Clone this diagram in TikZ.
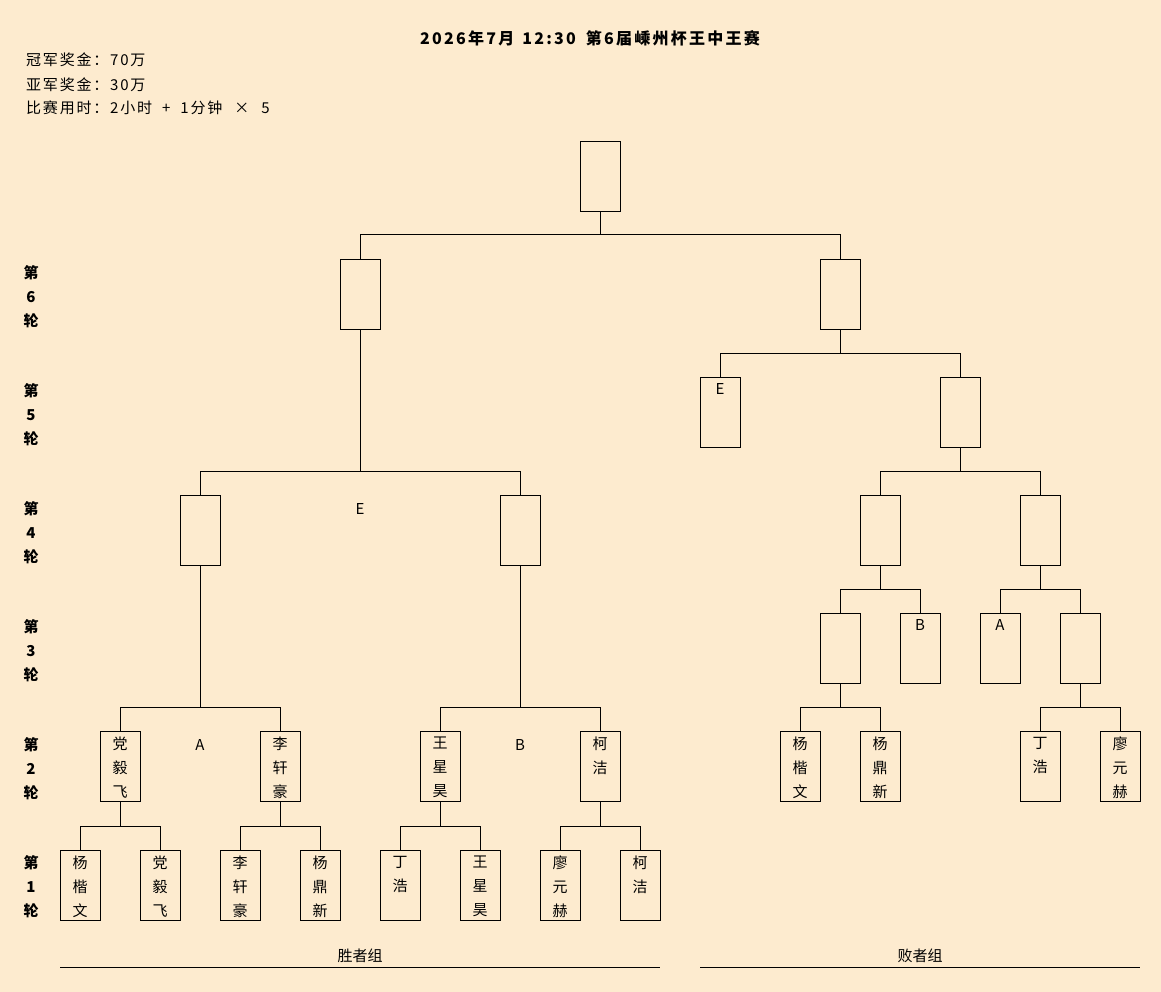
\documentclass[tikz,border=0pt]{standalone}
\usepackage{fontspec}
\setmainfont{Noto Sans CJK SC}
\definecolor{bgc}{HTML}{FDEBCF}
\newcommand\bx[3]{\node[box] (#1) at (#2,#3) {};}
\newcommand\bxt[4]{\node[box] (#1) at (#2,#3) {};\node[boxtxt] (#1t) at ([yshift=-6pt]#1.north) {#4};}
\newcommand\brk[3]{\coordinate (#1bar) at ([yshift=24pt]#2.north);
  \draw[conn] (#2.north) -- (#1bar) -| (#3.north);
  \draw[conn] (#1.south) -- (#1.south |- #1bar);}
\begin{document}
\begin{tikzpicture}[x=1pt,y=-1pt,
  box/.style={draw=black, line width=1pt, minimum width=40pt, minimum height=70pt, inner sep=0pt, anchor=north},
  boxtxt/.style={anchor=north, align=center, inner sep=0pt, font=\fontsize{15}{24}\selectfont},
  conn/.style={draw=black, line width=1pt},
  rlab/.style={font=\bfseries\fontsize{15}{24}\selectfont, align=center, anchor=north, inner sep=0pt},
  mk/.style={font=\fontsize{15}{18}\selectfont, inner sep=0pt},
  hdr/.style={font=\fontsize{15}{16}\selectfont\addfontfeature{LetterSpace=12}, anchor=west, inner sep=0pt},
]
\fill[bgc] (0,0) rectangle (1161,992);
\useasboundingbox (0,0) rectangle (1161,992);

% header
\node[font=\bfseries\fontsize{16}{18}\selectfont\addfontfeature{LetterSpace=14}, inner sep=0pt] (title) at (590,38) {2026年7月\hspace{8pt}12:30\hspace{10pt}第6届嵊州杯王中王赛};
\node[hdr] (h1) at (26,60) {冠军奖金：70万};
\node[hdr] (h2) at (26,85) {亚军奖金：30万};
\node[hdr] (h3) at (26,108) {比赛用时：2小时\hspace{10pt}+\hspace{10pt}1分钟\hspace{12pt}×\hspace{12pt}5};

% round labels
\node[rlab] (rd6) at (31,265) {第\\6\\轮};
\node[rlab] (rd5) at (31,383) {第\\5\\轮};
\node[rlab] (rd4) at (31,501) {第\\4\\轮};
\node[rlab] (rd3) at (31,619) {第\\3\\轮};
\node[rlab] (rd2) at (31,737) {第\\2\\轮};
\node[rlab] (rd1) at (31,855) {第\\1\\轮};

% boxes
\bx{f}{600}{141}
\bx{sa}{360}{259}
\bx{sb}{840}{259}
\bxt{rfe}{720}{377}{E}
\bx{rfb}{960}{377}
\bx{lfa}{200}{495}
\bx{lfb}{520}{495}
\bx{rqa}{880}{495}
\bx{rqb}{1040}{495}
\bx{rta}{840}{613}
\bxt{rtb}{920}{613}{B}
\bxt{rtc}{1000}{613}{A}
\bx{rtd}{1080}{613}
\bxt{lsa}{120}{731}{党\\毅\\飞}
\bxt{lsb}{280}{731}{李\\轩\\豪}
\bxt{lsc}{440}{731}{王\\星\\昊}
\bxt{lsd}{600}{731}{柯\\洁}
\bxt{rsa}{800}{731}{杨\\楷\\文}
\bxt{rsb}{880}{731}{杨\\鼎\\新}
\bxt{rsc}{1040}{731}{丁\\浩}
\bxt{rsd}{1120}{731}{廖\\元\\赫}
\bxt{loa}{80}{850}{杨\\楷\\文}
\bxt{lob}{160}{850}{党\\毅\\飞}
\bxt{loc}{240}{850}{李\\轩\\豪}
\bxt{lod}{320}{850}{杨\\鼎\\新}
\bxt{loe}{400}{850}{丁\\浩}
\bxt{lof}{480}{850}{王\\星\\昊}
\bxt{log}{560}{850}{廖\\元\\赫}
\bxt{loh}{640}{850}{柯\\洁}

% free marks
\node[mk] (me) at (360,509) {E};
\node[mk] (ma) at (200,745) {A};
\node[mk] (mb) at (520,745) {B};

% brackets
\brk{f}{sa}{sb}
\brk{sa}{lfa}{lfb}
\brk{sb}{rfe}{rfb}
\brk{rfb}{rqa}{rqb}
\brk{rqa}{rta}{rtb}
\brk{rqb}{rtc}{rtd}
\brk{rta}{rsa}{rsb}
\brk{rtd}{rsc}{rsd}
\brk{lfa}{lsa}{lsb}
\brk{lfb}{lsc}{lsd}
\brk{lsa}{loa}{lob}
\brk{lsb}{loc}{lod}
\brk{lsc}{loe}{lof}
\brk{lsd}{log}{loh}

% bottom
\coordinate (wl) at (60,967);
\coordinate (wr) at (660,967);
\coordinate (ll) at (700,967);
\coordinate (lr) at (1140,967);
\draw[conn] (wl) -- (wr);
\draw[conn] (ll) -- (lr);
\node[mk] (win) at (360,956) {胜者组};
\node[mk] (los) at (920,956) {败者组};
\end{tikzpicture}
\end{document}
